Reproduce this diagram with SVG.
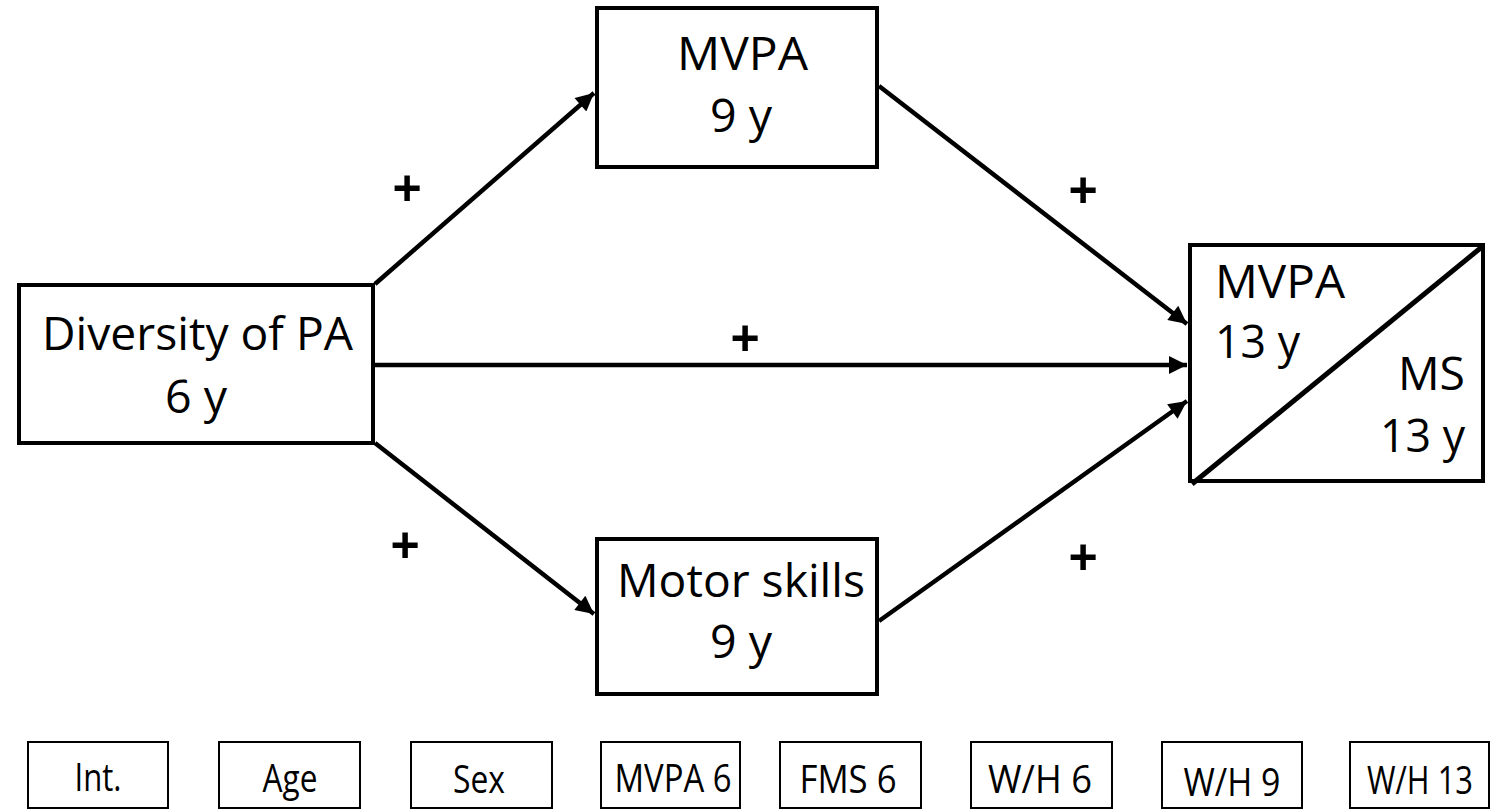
<svg xmlns="http://www.w3.org/2000/svg" width="1494" height="811" viewBox="0 0 1494 811">
  <style>
    .box { fill: #ffffff; stroke: #000000; stroke-width: 4; }
    .cov { fill: #ffffff; stroke: #000000; stroke-width: 2; }
    .lbl { font-family: "Open Sans", "Liberation Sans", sans-serif; font-size: 45px; fill: #000000; }
    .sm { font-family: "Open Sans", "Liberation Sans", sans-serif; font-size: 39px; fill: #000000; text-anchor: middle; }
    .sign { font-family: "Liberation Sans", Arial, sans-serif; font-weight: bold; font-size: 50px; fill: #000000; text-anchor: middle; }
    .edge { stroke: #000000; stroke-width: 4.5; fill: none; marker-end: url(#head); }
  </style>
  <defs>
    <marker id="head" viewBox="0 0 10 10" refX="10" refY="5" markerWidth="5.5" markerHeight="4" markerUnits="strokeWidth" orient="auto">
      <path d="M0,0 L10,5 L0,10 Z" fill="#000000"/>
    </marker>
  </defs>

  <!-- connectors -->
  <g id="connectors">
    <line class="edge" x1="375" y1="284" x2="594" y2="93"/>
    <line class="edge" x1="879" y1="86" x2="1187" y2="324"/>
    <line class="edge" x1="375" y1="365" x2="1187" y2="365"/>
    <line class="edge" x1="375" y1="443" x2="594" y2="614"/>
    <line class="edge" x1="879" y1="621" x2="1187" y2="401"/>
  </g>

  <!-- path signs -->
  <g id="signs">
    <text class="sign" x="407" y="205">+</text>
    <text class="sign" x="1083" y="207">+</text>
    <text class="sign" x="745" y="355">+</text>
    <text class="sign" x="405" y="562">+</text>
    <text class="sign" x="1083" y="574">+</text>
  </g>

  <g id="diversity">
    <rect class="box" x="19" y="285" width="354" height="158"/>
    <text class="lbl" x="42" y="350" textLength="311" lengthAdjust="spacingAndGlyphs">Diversity of PA</text>
    <text class="lbl" x="165" y="413" textLength="62" lengthAdjust="spacingAndGlyphs">6 y</text>
  </g>

  <g id="mvpa9">
    <rect class="box" x="597" y="8" width="280" height="159"/>
    <text class="lbl" x="677" y="70" textLength="131" lengthAdjust="spacingAndGlyphs">MVPA</text>
    <text class="lbl" x="710" y="132" textLength="62" lengthAdjust="spacingAndGlyphs">9 y</text>
  </g>

  <g id="motor9">
    <rect class="box" x="597" y="539" width="280" height="155"/>
    <text class="lbl" x="617" y="597" textLength="248" lengthAdjust="spacingAndGlyphs">Motor skills</text>
    <text class="lbl" x="710" y="658" textLength="62" lengthAdjust="spacingAndGlyphs">9 y</text>
  </g>

  <g id="outcome13">
    <rect class="box" x="1190" y="245" width="293" height="236"/>
    <line x1="1192" y1="484" x2="1483" y2="246" stroke="#000000" stroke-width="5"/>
    <text class="lbl" x="1215" y="298" textLength="130" lengthAdjust="spacingAndGlyphs">MVPA</text>
    <text class="lbl" x="1215" y="358" textLength="85" lengthAdjust="spacingAndGlyphs">13 y</text>
    <text class="lbl" x="1398" y="390" textLength="67" lengthAdjust="spacingAndGlyphs">MS</text>
    <text class="lbl" x="1380" y="452" textLength="85" lengthAdjust="spacingAndGlyphs">13 y</text>
  </g>

  <!-- covariates -->
  <g id="cov-int">
    <rect class="cov" x="28" y="742" width="140" height="66"/>
    <text class="sm" x="98" y="791" textLength="47" lengthAdjust="spacingAndGlyphs">Int.</text>
  </g>
  <g id="cov-age">
    <rect class="cov" x="219" y="742" width="141" height="66"/>
    <text class="sm" x="290" y="792" textLength="55" lengthAdjust="spacingAndGlyphs">Age</text>
  </g>
  <g id="cov-sex">
    <rect class="cov" x="411" y="742" width="141" height="66"/>
    <text class="sm" x="479" y="793" textLength="52" lengthAdjust="spacingAndGlyphs">Sex</text>
  </g>
  <g id="cov-mvpa6">
    <rect class="cov" x="601" y="742" width="139" height="66"/>
    <text class="sm" x="673" y="792" textLength="117" lengthAdjust="spacingAndGlyphs">MVPA 6</text>
  </g>
  <g id="cov-fms6">
    <rect class="cov" x="780" y="742" width="141" height="66"/>
    <text class="sm" x="848" y="793" textLength="97" lengthAdjust="spacingAndGlyphs">FMS 6</text>
  </g>
  <g id="cov-wh6">
    <rect class="cov" x="971" y="742" width="141" height="66"/>
    <text class="sm" x="1040" y="793" textLength="104" lengthAdjust="spacingAndGlyphs">W/H 6</text>
  </g>
  <g id="cov-wh9">
    <rect class="cov" x="1162" y="742" width="140" height="66"/>
    <text class="sm" x="1232" y="796" textLength="97" lengthAdjust="spacingAndGlyphs">W/H 9</text>
  </g>
  <g id="cov-wh13">
    <rect class="cov" x="1350" y="742" width="139" height="66"/>
    <text class="sm" x="1420" y="794" font-size="35" textLength="106" lengthAdjust="spacingAndGlyphs">W/H 13</text>
  </g>
</svg>
